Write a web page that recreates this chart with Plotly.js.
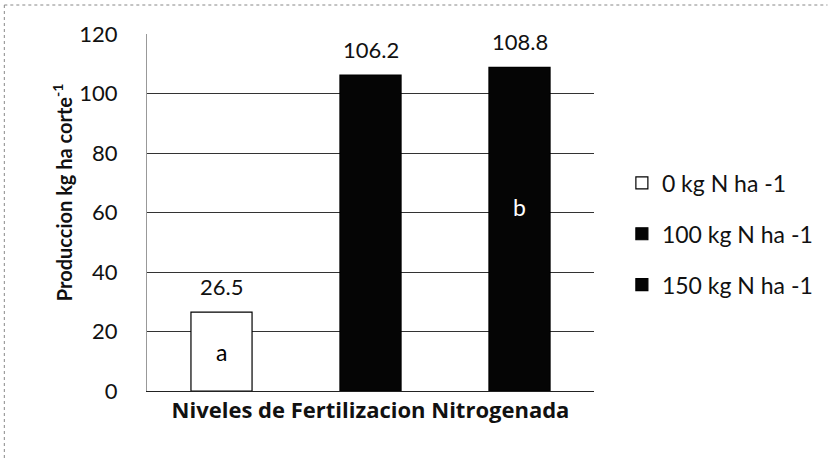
<!DOCTYPE html>
<html>
<head>
<meta charset="utf-8">
<script src="https://cdn.plot.ly/plotly-3.0.1.min.js"></script>
<style>html,body{margin:0;padding:0;background:#fff}#chart{width:829px;height:458px}</style>
</head>
<body>
<div id="chart"></div>
<script>
// Data
var seriesNames = ['0 kg N ha -1', '100 kg N ha -1', '150 kg N ha -1'];
var seriesValues = [26.5, 106.2, 108.8];
var valueLabels = ['26.5', '106.2', '108.8'];
var letterLabels = ['a', '', 'b'];
var letterY = [13, null, 62];
var yTicks = [0, 20, 40, 60, 80, 100, 120];
var xTitle = 'Niveles de Fertilizacion Nitrogenada';
var yTitle = 'Produccion kg ha corte<sup>-1</sup>';

var fillColors = ['#ffffff', '#050505', '#050505'];
var letterColors = ['#000000', '#ffffff', '#ffffff'];
var FONT = 'Lato, "Open Sans", sans-serif';

var traces = seriesNames.map(function (name, i) {
  return {
    type: 'bar',
    name: name,
    x: [i + 1],
    y: [seriesValues[i]],
    width: 0.41,
    legendgroup: 'g' + i,
    marker: {color: fillColors[i], line: {color: '#000', width: 1.2}},
    hoverinfo: 'skip'
  };
});

var annotations = [];
seriesValues.forEach(function (v, i) {
  annotations.push({
    x: i + 1, y: v, xref: 'x', yref: 'y', text: valueLabels[i],
    showarrow: false, yanchor: 'middle', yshift: 26,
    font: {family: FONT, size: 22, color: '#111'}
  });
  if (letterLabels[i]) {
    annotations.push({
      x: i + 1, y: letterY[i], xref: 'x', yref: 'y', text: letterLabels[i],
      showarrow: false, yanchor: 'middle',
      font: {family: FONT, size: 23, color: letterColors[i]}
    });
  }
});
// y-axis title (placed as rotated text, slightly above the plot centre as in the original)
annotations.push({
  xref: 'paper', yref: 'paper', x: (62 - 147) / 448, y: (391 - 192) / 357,
  xanchor: 'center', yanchor: 'middle', textangle: -90, showarrow: false,
  text: '<b>' + yTitle + '</b>', font: {family: FONT, size: 20, color: '#111'}
});

var layout = {
  width: 829, height: 458,
  margin: {l: 147, r: 234, t: 34, b: 67, pad: 0},
  paper_bgcolor: '#ffffff', plot_bgcolor: '#ffffff',
  font: {family: FONT, size: 17, color: '#111'},
  barmode: 'overlay',
  showlegend: true,
  legend: {
    x: 1.06, xanchor: 'left', y: 0.44, yanchor: 'middle',
    font: {family: FONT, size: 23, color: '#111'},
    tracegroupgap: 18, itemwidth: 30,
    bgcolor: 'rgba(0,0,0,0)'
  },
  xaxis: {
    range: [0.5, 3.5], showticklabels: false, ticks: '', showgrid: false,
    zeroline: false, showline: true, linecolor: '#222', linewidth: 1,
    title: {text: '<b>' + xTitle + '</b>', standoff: 11, font: {family: '"Open Sans", sans-serif', size: 22, color: '#111'}}
  },
  yaxis: {
    range: [0, 120], tickvals: yTicks, ticktext: yTicks.map(String),
    showgrid: true, gridcolor: '#333', gridwidth: 1,
    zeroline: false, showline: true, linecolor: '#999', linewidth: 1,
    ticks: '', ticklabelstandoff: 24,
    tickfont: {family: FONT, size: 22, color: '#111'}
  },
  annotations: annotations,
  shapes: [
    {type: 'line', xref: 'paper', yref: 'paper', x0: (4 - 147) / 448, x1: (829 - 147) / 448,
     y0: (391 - 5) / 357, y1: (391 - 5) / 357, line: {color: '#888', width: 1, dash: 'dot'}},
    {type: 'line', xref: 'paper', yref: 'paper', x0: (4 - 147) / 448, x1: (4 - 147) / 448,
     y0: (391 - 5) / 357, y1: (391 - 458) / 357, line: {color: '#888', width: 1, dash: 'dot'}}
  ]
};

Plotly.newPlot('chart', traces, layout, {displayModeBar: false, staticPlot: true});
</script>
</body>
</html>
